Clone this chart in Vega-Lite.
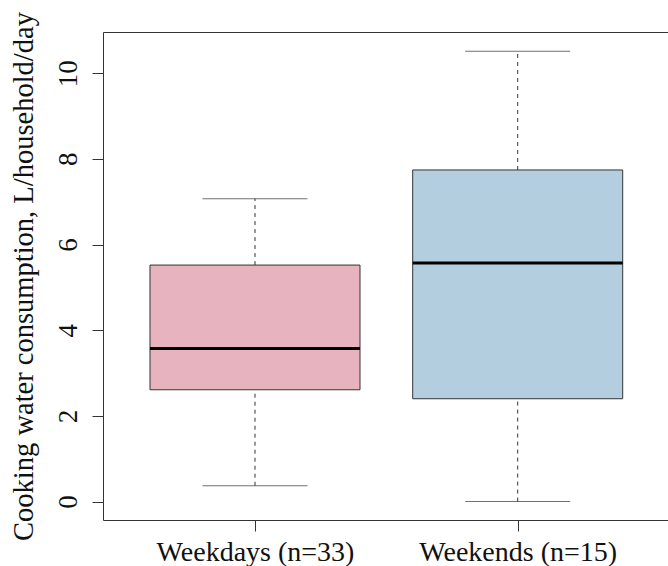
{
  "$schema": "https://vega.github.io/schema/vega-lite/v6.json",
  "width": 565,
  "height": 488,
  "autosize": "none",
  "padding": {"left": 103, "top": 32, "right": 0, "bottom": 46},
  "background": "white",
  "config": {
    "view": {"stroke": null},
    "font": "Liberation Serif",
    "axisY": {
      "titleFont": "Liberation Serif", "titleFontSize": 28.5, "titleFontWeight": "normal", "titleColor": "#111",
      "titleAngle": 270, "titleBaseline": "alphabetic", "titleAlign": "center", "titleX": -71, "titleY": 244,
      "labelFont": "Liberation Serif", "labelFontSize": 27, "labelFontWeight": "normal", "labelColor": "#111", "labelLimit": 0,
      "labelAngle": 270, "labelAlign": "center", "labelBaseline": "alphabetic", "labelPadding": 16,
      "tickSize": 11, "tickColor": "#333", "domainColor": "#333", "tickWidth": 1, "domainWidth": 1,
      "grid": false
    }
  },
  "resolve": {"axis": {"x": "independent"}},
  "data": {"values": [
    {"group": "Weekdays (n=33)", "lo": 0.37, "q1": 2.61, "med": 3.57, "q3": 5.52, "hi": 7.07},
    {"group": "Weekends (n=15)", "lo": 0.0, "q1": 2.40, "med": 5.57, "q3": 7.74, "hi": 10.51}
  ]},
  "encoding": {
    "x": {
      "field": "group", "type": "nominal", "sort": null,
      "scale": {"type": "point", "padding": 0.5754, "align": 0.5028},
      "axis": null
    }
  },
  "layer": [
    {
      "mark": {"type": "rule", "strokeDash": [4, 4], "color": "#333", "strokeWidth": 1},
      "encoding": {
        "x": {
          "field": "group", "type": "nominal", "sort": null,
          "scale": {"type": "point", "padding": 0.5754, "align": 0.5028},
          "axis": {
            "orient": "bottom", "title": null, "labelAngle": 0, "labelLimit": 0,
            "labelFont": "Liberation Serif", "labelFontSize": 28, "labelFontWeight": "normal", "labelColor": "#111",
            "labelBaseline": "alphabetic", "labelPadding": 29,
            "tickSize": 11, "tickColor": "#333", "domainColor": "#333", "domainWidth": 1, "tickWidth": 1,
            "grid": false
          }
        },
        "y": {"field": "lo", "type": "quantitative",
          "scale": {"domain": [-0.43, 10.96], "nice": false, "zero": false},
          "axis": {"title": "Cooking water consumption, L/household/day", "values": [0, 2, 4, 6, 8, 10]}},
        "y2": {"field": "q1"}
      }
    },
    {
      "mark": {"type": "rule", "strokeDash": [4, 4], "color": "#333", "strokeWidth": 1},
      "encoding": {
        "y": {"field": "q3", "type": "quantitative", "scale": {"domain": [-0.43, 10.96], "nice": false, "zero": false},
          "axis": {"title": "Cooking water consumption, L/household/day", "values": [0, 2, 4, 6, 8, 10]}},
        "y2": {"field": "hi"}
      }
    },
    {
      "mark": {"type": "tick", "orient": "horizontal", "size": 105, "thickness": 1, "color": "#333"},
      "encoding": {
        "y": {"field": "lo", "type": "quantitative", "scale": {"domain": [-0.43, 10.96], "nice": false, "zero": false},
          "axis": {"title": "Cooking water consumption, L/household/day", "values": [0, 2, 4, 6, 8, 10]}}
      }
    },
    {
      "mark": {"type": "tick", "orient": "horizontal", "size": 105, "thickness": 1, "color": "#333"},
      "encoding": {
        "y": {"field": "hi", "type": "quantitative", "scale": {"domain": [-0.43, 10.96], "nice": false, "zero": false},
          "axis": {"title": "Cooking water consumption, L/household/day", "values": [0, 2, 4, 6, 8, 10]}}
      }
    },
    {
      "mark": {"type": "bar", "size": 210, "stroke": "#333", "strokeWidth": 1, "opacity": 1, "fillOpacity": 1},
      "encoding": {
        "y": {"field": "q1", "type": "quantitative", "scale": {"domain": [-0.43, 10.96], "nice": false, "zero": false},
          "axis": {"title": "Cooking water consumption, L/household/day", "values": [0, 2, 4, 6, 8, 10]}},
        "y2": {"field": "q3"},
        "fill": {"field": "group", "type": "nominal", "scale": {"range": ["#E6B3BF", "#B3CEDF"]}, "legend": null}
      }
    },
    {
      "mark": {"type": "tick", "orient": "horizontal", "size": 210, "thickness": 3, "color": "#000", "opacity": 1},
      "encoding": {
        "x": {
          "field": "group", "type": "nominal", "sort": null,
          "scale": {"type": "point", "padding": 0.5754, "align": 0.5028},
          "axis": {"orient": "top", "title": null, "labels": false, "ticks": false, "domainColor": "#333", "domainWidth": 1, "grid": false}
        },
        "y": {"field": "med", "type": "quantitative", "scale": {"domain": [-0.43, 10.96], "nice": false, "zero": false},
          "axis": {"title": "Cooking water consumption, L/household/day", "values": [0, 2, 4, 6, 8, 10]}}
      }
    }
  ]
}
